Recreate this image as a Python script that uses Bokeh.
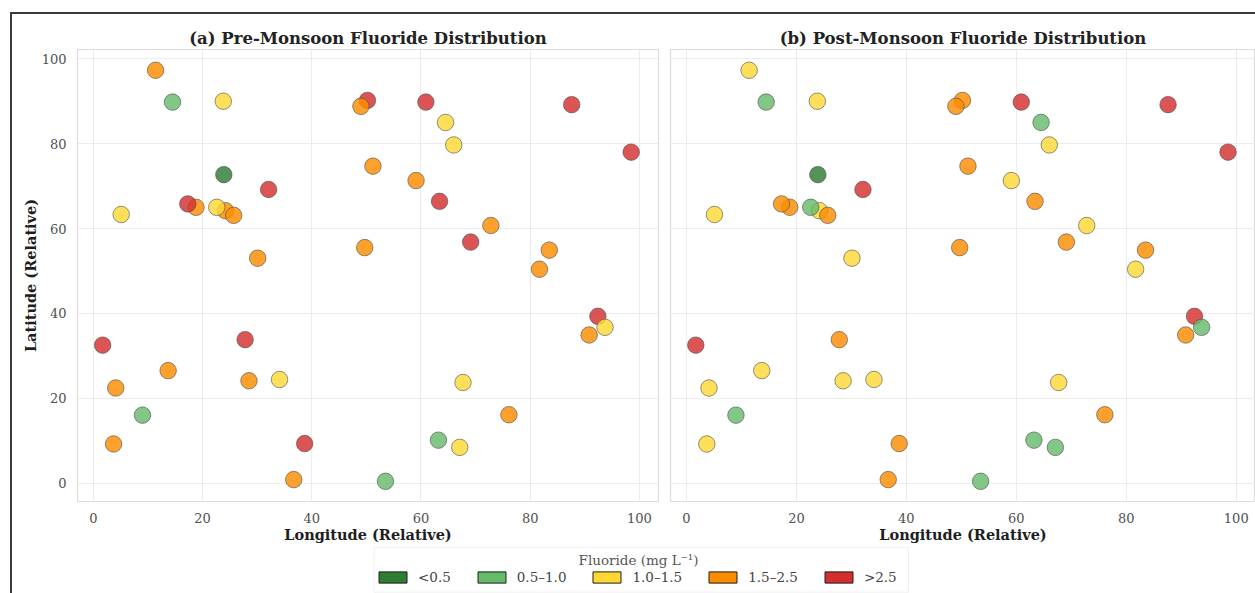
from bokeh.plotting import figure
from bokeh.layouts import row, column
from bokeh.models import (ColumnDataSource, Legend, LegendItem, BoxAnnotation,
                          Label, Range1d, FixedTicker)
from bokeh.embed import file_html
from bokeh.resources import INLINE

# Sampling sites (relative coordinates) and fluoride class per season
lon = [11.4, 14.5, 23.8, 23.9, 5.1, 18.8, 17.3, 24.2, 22.6, 25.7,
       32.1, 30.1, 50.2, 49.0, 60.9, 64.5, 66.0, 51.2, 59.1, 63.4,
       72.8, 69.1, 49.7, 83.5, 81.7, 87.6, 98.5, 92.4, 93.7, 90.8,
       1.7, 4.1, 13.7, 9.0, 3.7, 27.8, 28.5, 34.1, 38.7, 36.7,
       53.5, 63.2, 67.7, 67.1, 76.1]
lat = [97.3, 89.8, 90.0, 72.7, 63.3, 65.0, 65.8, 64.2, 65.0, 63.1,
       69.2, 53.0, 90.2, 88.8, 89.8, 85.0, 79.7, 74.7, 71.3, 66.4,
       60.7, 56.8, 55.5, 54.9, 50.4, 89.2, 78.0, 39.3, 36.7, 34.9,
       32.5, 22.4, 26.5, 16.0, 9.2, 33.8, 24.1, 24.4, 9.3, 0.8,
       0.4, 10.1, 23.7, 8.4, 16.1]
pre_class = ["1.5–2.5", "0.5–1.0", "1.0–1.5", "<0.5", "1.0–1.5",
             "1.5–2.5", ">2.5", "1.5–2.5", "1.0–1.5", "1.5–2.5",
             ">2.5", "1.5–2.5", ">2.5", "1.5–2.5", ">2.5",
             "1.0–1.5", "1.0–1.5", "1.5–2.5", "1.5–2.5", ">2.5",
             "1.5–2.5", ">2.5", "1.5–2.5", "1.5–2.5", "1.5–2.5",
             ">2.5", ">2.5", ">2.5", "1.0–1.5", "1.5–2.5",
             ">2.5", "1.5–2.5", "1.5–2.5", "0.5–1.0", "1.5–2.5",
             ">2.5", "1.5–2.5", "1.0–1.5", ">2.5", "1.5–2.5",
             "0.5–1.0", "0.5–1.0", "1.0–1.5", "1.0–1.5", "1.5–2.5"]
post_class = ["1.0–1.5", "0.5–1.0", "1.0–1.5", "<0.5", "1.0–1.5",
              "1.5–2.5", "1.5–2.5", "1.0–1.5", "0.5–1.0", "1.5–2.5",
              ">2.5", "1.0–1.5", "1.5–2.5", "1.5–2.5", ">2.5",
              "0.5–1.0", "1.0–1.5", "1.5–2.5", "1.0–1.5", "1.5–2.5",
              "1.0–1.5", "1.5–2.5", "1.5–2.5", "1.5–2.5", "1.0–1.5",
              ">2.5", ">2.5", ">2.5", "0.5–1.0", "1.5–2.5",
              ">2.5", "1.0–1.5", "1.0–1.5", "0.5–1.0", "1.0–1.5",
              "1.5–2.5", "1.0–1.5", "1.0–1.5", "1.5–2.5", "1.5–2.5",
              "0.5–1.0", "0.5–1.0", "1.0–1.5", "0.5–1.0", "1.5–2.5"]

classes = ["<0.5", "0.5–1.0", "1.0–1.5", "1.5–2.5", ">2.5"]
class_colors = ["#2e7d32", "#66bb6a", "#fdd835", "#fb8c00", "#d32f2f"]
ticks = [0, 20, 40, 60, 80, 100]

SERIF = "DejaVu Serif"
color_of = dict(zip(classes, class_colors))

x_range = Range1d(-2.9, 103.5)
y_range = Range1d(-4.36, 102.2)


def panel(title, cls, width, left, right, show_y):
    p = figure(width=width, height=531, x_range=x_range, y_range=y_range,
               output_backend="svg", toolbar_location=None,
               min_border_left=left, min_border_right=right,
               min_border_top=35, min_border_bottom=44)
    src = ColumnDataSource(dict(lon=lon, lat=lat, cls=cls,
                                color=[color_of[c] for c in cls]))
    p.scatter(x="lon", y="lat", source=src, size=16.5, fill_color="color",
              fill_alpha=0.82, line_color="#4a4a4a", line_alpha=0.75,
              line_width=0.8)
    p.title.text = title
    p.title.align = "center"
    p.title.text_font = SERIF
    p.title.text_font_style = "bold"
    p.title.text_font_size = "16.5px"
    p.title.text_color = "#222222"
    p.title.standoff = 3
    p.outline_line_color = "#dcdcdc"
    p.outline_line_width = 1.2
    p.background_fill_color = "white"
    p.border_fill_color = "white"
    for ax in (p.xaxis[0], p.yaxis[0]):
        ax.ticker = FixedTicker(ticks=ticks)
        ax.axis_line_color = None
        ax.major_tick_line_color = None
        ax.minor_tick_line_color = None
        ax.major_label_text_font = SERIF
        ax.major_label_text_font_size = "13px"
        ax.major_label_text_color = "#505050"
        ax.major_label_standoff = 5
        ax.axis_label_text_font = SERIF
        ax.axis_label_text_font_style = "bold"
        ax.axis_label_text_font_size = "14.5px"
        ax.axis_label_text_color = "#1e1e1e"
        ax.axis_label_standoff = 0
    p.xaxis.axis_label = "Longitude (Relative)"
    if show_y:
        p.yaxis.axis_label = "Latitude (Relative)"
    else:
        p.yaxis.visible = False
    p.grid.grid_line_color = "#ececec"
    p.grid.grid_line_width = 1
    return p


p1 = panel("(a) Pre-Monsoon Fluoride Distribution", pre_class, 652, 65, 6, True)
p2 = panel("(b) Post-Monsoon Fluoride Distribution", post_class, 591, 6, 0, False)

# Shared legend strip below both panels
leg = figure(width=1243, height=48, x_range=Range1d(0, 1243), y_range=Range1d(0, 48),
             output_backend="svg", toolbar_location=None,
             x_axis_location=None, y_axis_location=None,
             min_border=0, min_border_left=0, min_border_right=0,
             min_border_top=0, min_border_bottom=0)
leg.grid.visible = False
leg.outline_line_color = None
leg.background_fill_color = "white"
leg.border_fill_color = "white"

leg.add_layout(BoxAnnotation(left=361.6, right=896, bottom=1.3, top=46,
                             fill_alpha=0, line_color="#cfcfcf", line_width=1))
leg.add_layout(Label(x=626, y=34, text="Fluoride (mg L⁻¹)", text_align="center",
                     text_baseline="middle", text_font=SERIF,
                     text_font_size="13.5px", text_color="#555555"))

nan = float("nan")
items = []
for c, col in zip(classes, class_colors):
    r = leg.quad(left=[nan], right=[nan], top=[nan], bottom=[nan], fill_color=col,
                 line_color="#1e1e1e", line_width=1)
    items.append(LegendItem(label=c, renderers=[r]))
legend = Legend(items=items, orientation="horizontal", location=(363, 8),
                glyph_width=35, glyph_height=14, label_height=14,
                label_standoff=8, spacing=23, padding=0, margin=0,
                border_line_alpha=0, background_fill_alpha=0,
                label_text_font=SERIF, label_text_font_size="13.5px",
                label_text_color="#444444")
leg.add_layout(legend)

root = column(row(p1, p2), leg,
              styles={"margin-left": "10px", "margin-top": "12px",
                      "border-top": "2px solid #3a3a3a",
                      "border-left": "2px solid #3a3a3a"})

open("out.html", "w").write(file_html(root, INLINE))
